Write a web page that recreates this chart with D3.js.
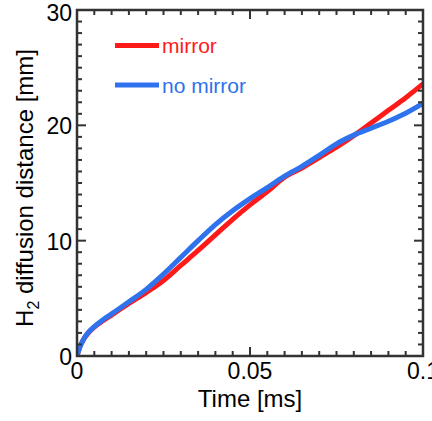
<!DOCTYPE html>
<html><head><meta charset="utf-8">
<script src="https://cdn.jsdelivr.net/npm/d3@7"></script>
<style>body{margin:0;background:#fff}svg{display:block}text{font-family:"Liberation Sans",Arial,sans-serif}</style>
</head><body>
<svg id="c" width="432" height="421"></svg>
<script>
const time = [0, 0.001, 0.002, 0.003, 0.005, 0.0075, 0.01, 0.015, 0.02, 0.025, 0.03, 0.035, 0.04, 0.045, 0.05, 0.055, 0.06, 0.065, 0.07, 0.075, 0.08, 0.085, 0.09, 0.095, 0.1];
const noMirror = [0, 0.9, 1.5, 1.95, 2.55, 3.15, 3.65, 4.7, 5.78, 7.1, 8.55, 10.0, 11.4, 12.6, 13.65, 14.6, 15.6, 16.45, 17.4, 18.4, 19.15, 19.75, 20.35, 21.05, 21.9];
const mirror = [0, 0.9, 1.5, 1.9, 2.5, 3.05, 3.55, 4.55, 5.5, 6.55, 7.85, 9.15, 10.5, 11.85, 13.1, 14.25, 15.5, 16.3, 17.2, 18.1, 19.1, 20.2, 21.3, 22.4, 23.6];
const xTicks = [0, 0.05, 0.1];
const xTickLabels = ["0", "0.05", "0.1"];
const yTicks = [0, 10, 20, 30];
const seriesNames = ["mirror", "no mirror"];
const seriesColors = ["#ff1a1a", "#2f72ee"];

const svg = d3.select("#c");
const L = 77, R = 423, T = 10, B = 356;
const x = d3.scaleLinear().domain([0, 0.1]).range([L, R]);
const y = d3.scaleLinear().domain([0, 30]).range([B, T]);
const axisColor = "#333";

const line = d3.line().x((d, i) => x(time[i])).y(d => y(d)).curve(d3.curveMonotoneX);
const series = [mirror, noMirror];
const g = svg.append("g");
svg.append("clipPath").attr("id", "cp").append("rect").attr("x", L).attr("y", T).attr("width", R - L).attr("height", B - T);
series.forEach((s, k) => {
  g.append("path").attr("d", line(s)).attr("fill", "none")
   .attr("stroke", seriesColors[k]).attr("stroke-width", 5)
   .attr("stroke-linejoin", "round").attr("stroke-linecap", "round")
   .attr("clip-path", "url(#cp)");
});

// minor & major ticks (inward, all four sides)
const ax = svg.append("g").attr("stroke", axisColor).attr("stroke-width", 2);
d3.range(0, 0.1 + 1e-9, 0.005).forEach(v => {
  const major = xTicks.some(t => Math.abs(t - v) < 1e-9);
  const len = major ? 9 : 5;
  ax.append("line").attr("x1", x(v)).attr("x2", x(v)).attr("y1", B).attr("y2", B - len);
  ax.append("line").attr("x1", x(v)).attr("x2", x(v)).attr("y1", T).attr("y2", T + len);
});
d3.range(0, 31, 1).forEach(v => {
  const major = v % 10 === 0;
  const len = major ? 9 : 5;
  ax.append("line").attr("y1", y(v)).attr("y2", y(v)).attr("x1", L).attr("x2", L + len);
  ax.append("line").attr("y1", y(v)).attr("y2", y(v)).attr("x1", R).attr("x2", R - len);
});
svg.append("rect").attr("x", L).attr("y", T).attr("width", R - L).attr("height", B - T)
  .attr("fill", "none").attr("stroke", axisColor).attr("stroke-width", 2.5);

// tick labels
xTicks.forEach((v, i) => {
  svg.append("text").attr("x", x(v)).attr("y", 379).attr("text-anchor", "middle")
    .attr("font-size", 23).attr("fill", "#000").text(xTickLabels[i]);
});
yTicks.forEach(v => {
  svg.append("text").attr("x", 72).attr("y", Math.max(y(v) + 9, 21)).attr("text-anchor", "end")
    .attr("font-size", 23).attr("fill", "#000").text(v);
});

// axis titles
svg.append("text").attr("x", 250).attr("y", 407).attr("text-anchor", "middle")
  .attr("font-size", 24).attr("fill", "#000").text("Time [ms]");
const yl = svg.append("text").attr("transform", `translate(32.5,188) rotate(-90)`)
  .attr("text-anchor", "middle").attr("font-size", 24).attr("fill", "#000");
yl.append("tspan").text("H");
yl.append("tspan").attr("font-size", 16).attr("dy", 6).text("2");
yl.append("tspan").attr("dy", -6).text(" diffusion distance [mm]");

// legend
const legY = [45.5, 85];
seriesNames.forEach((n, k) => {
  svg.append("line").attr("x1", 115).attr("x2", 159).attr("y1", legY[k]).attr("y2", legY[k])
    .attr("stroke", seriesColors[k]).attr("stroke-width", 5);
  svg.append("text").attr("x", 162).attr("y", legY[k] + 7.5).attr("font-size", 21)
    .attr("fill", seriesColors[k]).text(n);
});
</script>
</body></html>
